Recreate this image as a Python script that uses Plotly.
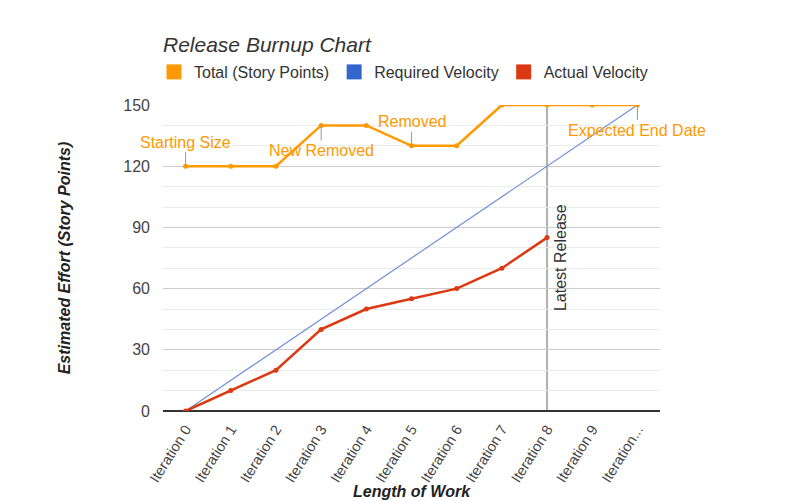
import plotly.graph_objects as go

iterations = ["Iteration 0", "Iteration 1", "Iteration 2", "Iteration 3", "Iteration 4",
              "Iteration 5", "Iteration 6", "Iteration 7", "Iteration 8", "Iteration 9",
              "Iteration..."]
total_points = [120, 120, 120, 140, 140, 130, 130, 150, 150, 150, 150]
required_velocity = [0, 15, 30, 45, 60, 75, 90, 105, 120, 135, 150]
actual_velocity = [0, 10, 20, 40, 50, 55, 60, 70, 85]

# annotations: (category index, text, vertical offset of label in px)
notes = [(0, "Starting Size", -24), (3, "New Removed", 25), (5, "Removed", -24), (10, "Expected End Date", 25)]
latest_release_idx = 8
latest_release_label_y = 75

ORANGE = "#FF9900"
BLUE = "#3366CC"
RED = "#DC3912"
FONT = "Liberation Sans, Arial, sans-serif"

fig = go.Figure()
fig.add_trace(go.Scatter(x=iterations, y=required_velocity, mode="lines",
                         line=dict(color="#6F8FD8", width=1.2), showlegend=False))
fig.add_trace(go.Scatter(x=iterations, y=total_points, mode="lines+markers",
                         line=dict(color=ORANGE, width=2.5), marker=dict(size=5, color=ORANGE),
                         showlegend=False))
fig.add_trace(go.Scatter(x=iterations[:len(actual_velocity)], y=actual_velocity, mode="lines+markers",
                         line=dict(color=RED, width=2.5), marker=dict(size=5, color=RED),
                         showlegend=False))
for name, c in [("Total (Story Points)", ORANGE), ("Required Velocity", BLUE), ("Actual Velocity", RED)]:
    fig.add_trace(go.Scatter(x=[None], y=[None], mode="markers", name=name,
                             marker=dict(symbol="square", size=15, color=c)))

fig.add_shape(type="line", xref="x", yref="y", x0=iterations[latest_release_idx], x1=iterations[latest_release_idx],
              y0=0, y1=150, line=dict(color="#B0B0B0", width=2), layer="below")

fig.add_annotation(x=iterations[latest_release_idx], y=latest_release_label_y, text="Latest Release",
                   textangle=-90, showarrow=False, xshift=13,
                   font=dict(family=FONT, size=16, color="#333333"))

for idx, txt, off in notes:
    fig.add_annotation(x=iterations[idx], y=total_points[idx], text=txt, showarrow=True,
                       arrowhead=0, arrowwidth=1, arrowcolor="#999999", ax=0, ay=off,
                       font=dict(family=FONT, size=16, color=ORANGE))

# x-axis title placed just below the rotated tick labels
fig.add_annotation(xref="paper", yref="paper", x=0.5, y=-(491 - 411) / 306, yanchor="middle",
                   text="Length of Work", showarrow=False,
                   font=dict(family=FONT, size=16, color="#222222", weight="bold", style="italic"))

fig.update_layout(
    width=796, height=501,
    margin=dict(l=163, r=136, t=105, b=90, autoexpand=False),
    paper_bgcolor="white", plot_bgcolor="white",
    font=dict(family=FONT, color="#444444"),
    title=dict(text="Release Burnup Chart", x=163/796, xanchor="left", xref="container",
               y=1-45/501, yanchor="middle", yref="container",
               font=dict(family=FONT, size=21, color="#333333", style="italic")),
    legend=dict(orientation="h", x=-9/497, xanchor="left", y=1 + 33/306, yanchor="middle",
                font=dict(family=FONT, size=16, color="#333333"),
                itemwidth=30, tracegroupgap=0),
    xaxis=dict(type="category", range=[-0.5, 10.5], tickangle=-58, showgrid=False,
               tickfont=dict(family=FONT, size=14.5, color="#444444"), ticks="",
               showline=False, ticklabelstandoff=6, automargin=False),
    yaxis=dict(range=[0, 150], tickvals=[0, 30, 60, 90, 120, 150], showgrid=True,
               gridcolor="#CCCCCC", gridwidth=1,
               minor=dict(dtick=10, tick0=0, showgrid=True, gridcolor="#EBEBEB", gridwidth=1),
               zeroline=True, zerolinecolor="#333333", zerolinewidth=1.5,
               tickfont=dict(family=FONT, size=16, color="#444444"), ticklabelstandoff=12,
               title=dict(text="Estimated Effort (Story Points)", standoff=48,
                          font=dict(family=FONT, size=16, color="#222222", weight="bold", style="italic"))),
)

fig.write_html("out.html")
